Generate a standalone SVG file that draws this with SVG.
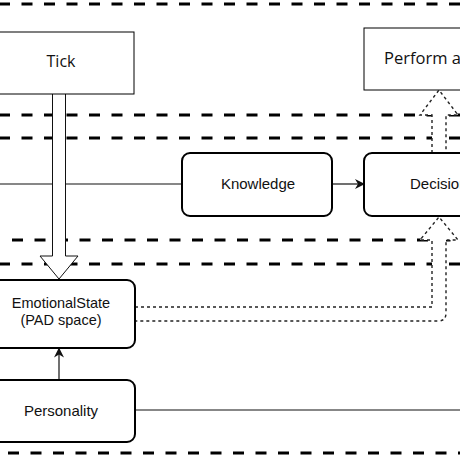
<svg xmlns="http://www.w3.org/2000/svg" width="460" height="460" viewBox="0 0 460 460">
<defs>
<style>
.lane{fill:none;stroke:#000;stroke-width:3;stroke-dasharray:11 11.5}
.sq{fill:#fff;stroke:#000;stroke-width:1}
.rd{fill:#fff;stroke:#000;stroke-width:2}
.conn{fill:none;stroke:#111;stroke-width:1.2}
.hollow{fill:#fff;stroke:#111;stroke-width:1}
.dot{fill:#fff;stroke:#222;stroke-width:1.4;stroke-dasharray:3 3}
.t1{font-family:"Open Sans","Noto Sans",sans-serif;font-size:16px;fill:#111;text-anchor:middle}
.t2{font-family:"Liberation Sans",Arial,sans-serif;font-size:15px;fill:#111;text-anchor:middle}
</style>
<marker id="ah" viewBox="0 0 10 10" refX="9" refY="5" markerWidth="10" markerHeight="10" markerUnits="userSpaceOnUse" orient="auto">
<path d="M0,0 L10,5 L0,10 L3,5 Z" fill="#111"/>
</marker>
</defs>
<rect width="460" height="460" fill="#fff"/>
<g id="lanes">
<line class="lane" x1="-1" y1="4" x2="470" y2="4"/>
<line class="lane" x1="-1" y1="115" x2="470" y2="115"/>
<line class="lane" x1="-1" y1="138" x2="470" y2="138"/>
<line class="lane" x1="12" y1="240" x2="470" y2="240"/>
<line class="lane" x1="-1" y1="264" x2="470" y2="264"/>
<line class="lane" x1="8" y1="453" x2="470" y2="453"/>
</g>
<g id="connectors">
<line class="conn" x1="0" y1="184" x2="182" y2="184"/>
<line class="conn" x1="332" y1="184" x2="364" y2="184" marker-end="url(#ah)"/>
<line class="conn" x1="59" y1="380" x2="59" y2="348.5" marker-end="url(#ah)"/>
<line class="conn" x1="135" y1="410" x2="460" y2="410" stroke="#444"/>
<path class="hollow" d="M52.5,94 L52.5,256 L40,256 L59,279 L78,256 L65.5,256 L65.5,94"/>
<path class="dot" d="M432,153 L432,115 L420,115 L439,90 L458,115 L446,115 L446,153"/>
<path class="dot" d="M135,307 L432,307 L432,240 L420,240 L439,217 L458,240 L446,240 L446,313 Q446,321 438,321 L135,321"/>
</g>
<g id="tick">
<rect class="sq" x="-10" y="32" width="144" height="62"/>
<text class="t1" x="61" y="67">Tick</text>
</g>
<g id="perform">
<rect class="sq" x="364" y="28" width="160" height="62"/>
<text class="t1" x="384" y="64" style="text-anchor:start;font-size:16.5px">Perform action</text>
</g>
<g id="knowledge">
<rect class="rd" x="182" y="153" width="150" height="63" rx="8"/>
<text class="t2" x="258" y="189">Knowledge</text>
</g>
<g id="decision">
<rect class="rd" x="364" y="153" width="160" height="63" rx="8"/>
<text class="t2" x="410" y="189" style="text-anchor:start">Decision</text>
</g>
<g id="emotionalstate">
<rect class="rd" x="-10" y="280" width="145" height="68" rx="8"/>
<text class="t2" x="61" y="308" style="font-size:14.5px">EmotionalState</text>
<text class="t2" x="61" y="325" style="font-size:14.5px">(PAD space)</text>
</g>
<g id="personality">
<rect class="rd" x="-10" y="380" width="145" height="62" rx="8"/>
<text class="t2" x="61" y="416">Personality</text>
</g>
</svg>
